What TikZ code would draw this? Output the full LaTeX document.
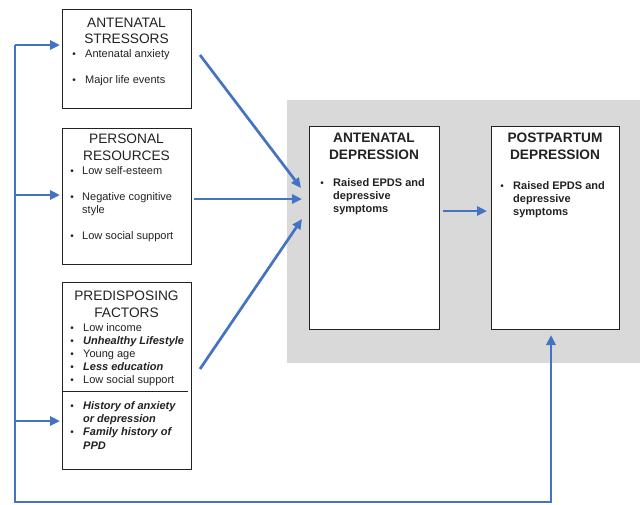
\documentclass[tikz,border=0pt]{standalone}
\usepackage{fontspec}
\setmainfont{Liberation Sans}
\usetikzlibrary{arrows.meta}
\definecolor{arrowblue}{HTML}{4472C4}
\definecolor{panelgrey}{HTML}{D9D9D9}
\definecolor{ink}{HTML}{222222}
\begin{document}
\begin{tikzpicture}[x=1pt,y=-1pt,
  box/.style={draw=ink, line width=1pt, fill=white, inner sep=0pt},
  title/.style={anchor=base, inner sep=0pt, font=\fontsize{13.7}{16}\selectfont, text=ink},
  btitle/.style={anchor=base, inner sep=0pt, font=\fontsize{13.7}{16}\selectfont\bfseries, text=ink},
  item/.style={anchor=base west, inner sep=0pt, font=\fontsize{11}{13}\selectfont, text=ink},
  bitem/.style={anchor=base west, inner sep=0pt, font=\fontsize{11}{13}\selectfont\bfseries, text=ink},
  biitem/.style={anchor=base west, inner sep=0pt, font=\fontsize{11}{13}\selectfont\bfseries\itshape, text=ink},
  bul/.style={anchor=base, inner sep=0pt, font=\fontsize{10}{12}\selectfont, text=ink},
  arr/.style={draw=arrowblue, line width=2.7pt, -{Triangle[length=10pt,width=9pt]}},
  fb/.style={draw=arrowblue, line width=2.7pt},
]
\useasboundingbox (0,0) rectangle (640,504);
\fill[white] (0,0) rectangle (640,504);

% grey panel
\node[fill=panelgrey, inner sep=0pt, minimum width=353pt, minimum height=263pt] (panel) at (463.5,231.5) {};

% boxes
\node[box, minimum width=129pt, minimum height=99pt] (stress) at (126.5,58.5) {};
\node[box, minimum width=129pt, minimum height=136pt] (personal) at (126.5,196) {};
\node[box, minimum width=129pt, minimum height=187pt] (predis) at (126.5,375.5) {};
\node[box, minimum width=130pt, minimum height=203pt] (ad) at (374,227.5) {};
\node[box, minimum width=128pt, minimum height=203pt] (pp) at (555,227.5) {};
\coordinate (divL) at (62,391);
\coordinate (divR) at (188,391);
\draw[draw=ink, line width=0.8pt] (divL) -- (divR);

% stressors text
\node[title] (t1a) at (126.5,27) {ANTENATAL};
\node[title] (t1b) at (126.5,43) {STRESSORS};
\node[bul] (b1a) at (74,57) {•};
\node[item] (i1a) at (85,57) {Antenatal anxiety};
\node[bul] (b1b) at (74,83) {•};
\node[item] (i1b) at (85,83) {Major life events};

% personal text
\node[title] (t2a) at (126.5,143) {PERSONAL};
\node[title] (t2b) at (126.5,160) {RESOURCES};
\node[bul] (b2a) at (72,174) {•};
\node[item] (i2a) at (82,174) {Low self-esteem};
\node[bul] (b2b) at (72,200) {•};
\node[item] (i2b) at (82,200) {Negative cognitive};
\node[item] (i2c) at (82,213) {style};
\node[bul] (b2c) at (72,239) {•};
\node[item] (i2d) at (82,239) {Low social support};

% predisposing text
\node[title] (t3a) at (126.5,300) {PREDISPOSING};
\node[title] (t3b) at (126.5,317) {FACTORS};
\node[bul] (b3a) at (72,331) {•};
\node[item] (i3a) at (83,331) {Low income};
\node[bul] (b3b) at (72,344) {•};
\node[biitem] (i3b) at (83,344) {Unhealthy Lifestyle};
\node[bul] (b3c) at (72,357) {•};
\node[item] (i3c) at (83,357) {Young age};
\node[bul] (b3d) at (72,370) {•};
\node[biitem] (i3d) at (83,370) {Less education};
\node[bul] (b3e) at (72,383) {•};
\node[item] (i3e) at (83,383) {Low social support};
\node[bul] (b3f) at (72,409) {•};
\node[biitem] (i3f) at (83,409) {History of anxiety};
\node[biitem] (i3g) at (83,422) {or depression};
\node[bul] (b3h) at (72,435) {•};
\node[biitem] (i3h) at (83,435) {Family history of};
\node[biitem] (i3i) at (83,449) {PPD};

% antenatal depression text
\node[btitle] (t4a) at (374,142) {ANTENATAL};
\node[btitle] (t4b) at (374,159) {DEPRESSION};
\node[bul] (b4a) at (322,186) {•};
\node[bitem] (i4a) at (333,186) {Raised EPDS and};
\node[bitem] (i4b) at (333,199) {depressive};
\node[bitem] (i4c) at (333,212) {symptoms};

% postpartum depression text
\node[btitle] (t5a) at (555,142) {POSTPARTUM};
\node[btitle] (t5b) at (555,159) {DEPRESSION};
\node[bul] (b5a) at (502,189) {•};
\node[bitem] (i5a) at (513,189) {Raised EPDS and};
\node[bitem] (i5b) at (513,202) {depressive};
\node[bitem] (i5c) at (513,215) {symptoms};

% connector coordinates
\coordinate (fbTop) at (15,45);
\coordinate (fbP) at (15,195);
\coordinate (fbQ) at (15,421);
\coordinate (fbBot) at (15,502);
\coordinate (fbCorner) at (551,502);
\coordinate (fbRise) at (551,344);
\coordinate (ppIn) at (551,335);
\coordinate (stressIn) at (60,45);
\coordinate (personalIn) at (60,195);
\coordinate (predisIn) at (60,421);
\coordinate (sOut) at (200,55);
\coordinate (pOut) at (194,199);
\coordinate (qOut) at (200,369);
\coordinate (adIn1) at (301,188);
\coordinate (adIn2) at (302,199);
\coordinate (adIn3) at (302,219);
\coordinate (adOut) at (443,211);
\coordinate (ppIn2) at (487,211);

% feedback line
\draw[fb, line join=miter] (fbTop) -- (fbBot) -- (fbCorner) -- (fbRise);
\draw[arr] (fbRise) -- (ppIn);
\draw[arr] (fbTop) -- (stressIn);
\draw[arr] (fbP) -- (personalIn);
\draw[arr] (fbQ) -- (predisIn);

% into antenatal depression
\draw[arr] (sOut) -- (adIn1);
\draw[arr] (pOut) -- (adIn2);
\draw[arr] (qOut) -- (adIn3);
\draw[arr] (adOut) -- (ppIn2);
\end{tikzpicture}
\end{document}
